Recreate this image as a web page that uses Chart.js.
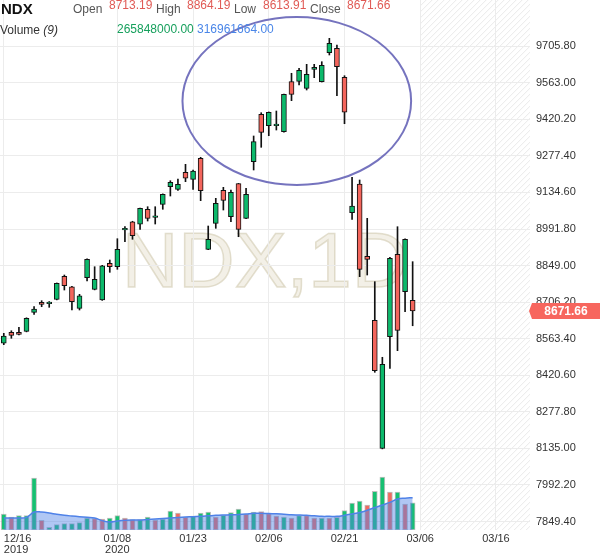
<!DOCTYPE html>
<html>
<head>
<meta charset="utf-8">
<script src="https://cdn.jsdelivr.net/npm/chart.js@4.4.1/dist/chart.umd.min.js"></script>
<style>
  body { margin: 0; background: #fff; }
  #wrap { position: relative; width: 600px; height: 558px; }
  #hdr span { position: absolute; white-space: nowrap; font-family: 'Liberation Sans', Arial, sans-serif; font-size: 12px; line-height: 12px; }
  #hdr .lbl { color: #555; }
  #hdr .val { color: #e05a55; }
</style>
</head>
<body>
<div id="wrap">
  <canvas id="myChart" width="600" height="558"></canvas>
  <div id="hdr">
    <span style="left:1px;top:1px;font-size:15px;line-height:15px;font-weight:bold;color:#111">NDX</span>
    <span class="lbl" style="left:73px;top:2.5px">Open</span>
    <span class="val" style="left:109px;top:-1px">8713.19</span>
    <span class="lbl" style="left:156px;top:2.5px">High</span>
    <span class="val" style="left:187px;top:-1px">8864.19</span>
    <span class="lbl" style="left:234px;top:2.5px">Low</span>
    <span class="val" style="left:263px;top:-1px">8613.91</span>
    <span class="lbl" style="left:310px;top:2.5px">Close</span>
    <span class="val" style="left:347px;top:-1px">8671.66</span>
    <span style="left:0px;top:23.5px;color:#333">Volume <i>(9)</i></span>
    <span style="left:117px;top:22.5px;color:#17a05d">265848000.00</span>
    <span style="left:197px;top:22.5px;color:#4a86e8">316961664.00</span>
  </div>
</div>
<script>
// trading days + empty future days on the right
let dates = [
  '2019-12-16','2019-12-17','2019-12-18','2019-12-19','2019-12-20','2019-12-23','2019-12-24','2019-12-26','2019-12-27','2019-12-30','2019-12-31',
  '2020-01-02','2020-01-03','2020-01-06','2020-01-07','2020-01-08','2020-01-09','2020-01-10','2020-01-13','2020-01-14','2020-01-15','2020-01-16','2020-01-17','2020-01-21','2020-01-22','2020-01-23','2020-01-24','2020-01-27','2020-01-28','2020-01-29','2020-01-30','2020-01-31',
  '2020-02-03','2020-02-04','2020-02-05','2020-02-06','2020-02-07','2020-02-10','2020-02-11','2020-02-12','2020-02-13','2020-02-14','2020-02-18','2020-02-19','2020-02-20','2020-02-21','2020-02-24','2020-02-25','2020-02-26','2020-02-27','2020-02-28',
  '2020-03-02','2020-03-03','2020-03-04','2020-03-05',
  '2020-03-06','2020-03-07','2020-03-08','2020-03-09','2020-03-10','2020-03-11','2020-03-12','2020-03-13','2020-03-14','2020-03-15','2020-03-16','2020-03-17','2020-03-18','2020-03-19','2020-03-20'
];

let opens = [8545.4,8588.3,8588.3,8592.2,8666.4,8705.5,8700.0,8717.2,8807.0,8766.4,8682.0,8801.6,8756.2,8714.5,8857.8,8844.5,8988.0,9020.3,9010.2,9068.8,9037.0,9088.3,9157.0,9146.9,9213.3,9185.9,9267.9,8912.5,9014.1,9143.0,9039.9,9168.8,9033.6,9254.7,9439.8,9395.3,9395.0,9371.9,9567.2,9568.7,9541.4,9615.6,9567.2,9680.4,9697.6,9584.4,9055.5,9167.6,8885.2,8635.2,8135.2,8571.1,8893.0,8746.9,8713.19];
let highs = [8584.4,8594.5,8607.8,8645.0,8688.3,8711.8,8708.5,8781.0,8812.1,8768.0,8736.7,8875.0,8844.5,8850.0,8870.7,8953.9,9000.8,9022.0,9074.0,9078.9,9078.9,9129.0,9180.4,9187.1,9244.5,9222.3,9271.9,9003.5,9111.7,9154.7,9144.2,9170.0,9150.8,9355.1,9446.1,9449.0,9452.7,9519.0,9600.0,9619.5,9635.1,9635.1,9645.3,9736.7,9710.5,9590.6,9193.8,9183.2,9033.6,8786.0,8490.7,8881.3,9000.8,8953.0,8864.19];
let lows = [8540.0,8564.9,8578.0,8590.0,8658.6,8688.3,8685.9,8715.0,8753.5,8675.4,8675.4,8788.7,8754.0,8713.0,8822.6,8834.4,8942.2,8951.6,8990.6,9023.0,9011.3,9068.8,9120.7,9143.0,9176.6,9146.9,9102.4,8911.0,8994.5,9066.0,9020.3,8961.7,9032.0,9222.3,9310.9,9356.2,9378.5,9370.0,9493.0,9554.3,9534.8,9582.8,9566.0,9671.5,9512.5,9403.1,9029.7,8805.5,8812.1,8432.1,8133.0,8447.7,8516.5,8668.8,8613.91];
let closes = [8573.9,8576.6,8580.5,8643.0,8679.3,8697.7,8706.5,8779.7,8770.3,8707.8,8731.2,8873.4,8795.3,8848.4,8844.5,8912.5,8994.5,8965.6,9072.7,9033.6,9043.5,9127.4,9174.2,9166.4,9189.9,9218.3,9141.4,8951.6,9092.2,9103.9,9135.2,8990.6,9127.4,9332.8,9369.5,9447.7,9401.5,9517.9,9517.9,9611.7,9596.1,9623.4,9631.2,9717.2,9625.8,9447.7,9081.7,8834.4,8873.4,8438.4,8463.3,8877.4,8596.1,8951.6,8671.66];

// volume (shares) and its 9-day average
let volumes = [157e6,127e6,141e6,141e6,510e6,95e6,25e6,53e6,63e6,63e6,73e6,118e6,112e6,108e6,118e6,141e6,118e6,102e6,102e6,127e6,98e6,108e6,186e6,167e6,124e6,137e6,167e6,176e6,127e6,144e6,171e6,206e6,157e6,176e6,180e6,161e6,137e6,127e6,118e6,141e6,141e6,118e6,118e6,118e6,124e6,190e6,265e6,284e6,245e6,379e6,519e6,372e6,372e6,255e6,265848000];
let volumeUp = [1,0,1,1,1,0,1,1,1,1,1,1,0,0,1,1,0,0,1,1,0,1,1,0,0,1,1,1,0,1,1,1,0,1,0,0,0,1,0,1,0,0,1,0,1,1,1,1,0,1,1,0,1,0,1];
let volumeAvg = [118e6,118e6,118e6,124e6,176e6,176e6,167e6,154e6,144e6,137e6,131e6,125e6,118e6,92e6,78e6,88e6,95e6,98e6,98e6,103e6,108e6,113e6,118e6,122e6,127e6,131e6,134e6,139e6,144e6,147e6,149e6,152e6,157e6,164e6,164e6,161e6,159e6,154e6,149e6,147e6,144e6,139e6,134e6,134e6,134e6,144e6,157e6,171e6,193e6,220e6,245e6,271e6,304e6,312e6,316961664];

let priceTicks = [7849.40,7992.20,8135.00,8277.80,8420.60,8563.40,8706.20,8849.00,8991.80,9134.60,9277.40,9420.20,9563.00,9705.80];
let xTickDates = ['2019-12-16','2020-01-08','2020-01-23','2020-02-06','2020-02-21','2020-03-06','2020-03-16'];
let xTickText = [['12/16','2019'],['01/08','2020'],'01/23','02/06','02/21','03/06','03/16'];

// circled area: centre (slot index, price) and half sizes
let circleCenter = [38.7, 9492];
let circleHalf = [15.1, 328];

let upColor = '#0cb96b';
let downColor = '#f3655c';
let fontFamily = "'Liberation Sans', Arial, sans-serif";

let bodies = opens.map((o, i) => [Math.min(o, closes[i]), Math.max(o, closes[i])]);
let wicks = lows.map((l, i) => [l, highs[i]]);
let bodyColors = opens.map((o, i) => closes[i] >= o ? upColor : downColor);
let volColors = volumeUp.map(u => u ? '#16c071' : '#f06a60');

let bgPlugin = {
  id: 'bg',
  beforeDraw(chart) {
    let ctx = chart.ctx, a = chart.chartArea;
    let x0 = chart.scales.x.getPixelForValue(closes.length);
    ctx.save();
    ctx.beginPath();
    ctx.rect(x0, a.top, a.right - x0, a.bottom - a.top);
    ctx.clip();
    ctx.strokeStyle = '#e9e9e9';
    ctx.lineWidth = 1;
    let h = a.bottom - a.top;
    for (let s = -h; s < a.right - x0; s += 6) {
      ctx.beginPath();
      ctx.moveTo(x0 + s, a.bottom);
      ctx.lineTo(x0 + s + h, a.top);
      ctx.stroke();
    }
    ctx.restore();

    ctx.save();
    ctx.font = '78px ' + fontFamily;
    ctx.textAlign = 'center';
    ctx.textBaseline = 'alphabetic';
    let cx = (a.left + a.right) / 2, cy = (a.top + a.bottom) / 2 + 22;
    ctx.fillStyle = 'rgba(228,222,202,0.45)';
    ctx.fillText('NDX,1D', cx, cy);
    ctx.strokeStyle = 'rgba(205,198,172,0.55)';
    ctx.lineWidth = 1.5;
    ctx.strokeText('NDX,1D', cx, cy);
    ctx.restore();
  },
  afterDraw(chart) {
    let ctx = chart.ctx, a = chart.chartArea;
    let xs = chart.scales.x, ys = chart.scales.y;
    // ellipse
    let ex = xs.getPixelForValue(circleCenter[0]);
    let ey = ys.getPixelForValue(circleCenter[1]);
    let rx = xs.getPixelForValue(circleCenter[0] + circleHalf[0]) - ex;
    let ry = ys.getPixelForValue(circleCenter[1] - circleHalf[1]) - ey;
    ctx.save();
    ctx.beginPath();
    ctx.ellipse(ex, ey, rx, ry, 0, 0, Math.PI * 2);
    ctx.strokeStyle = 'rgba(110,108,186,0.95)';
    ctx.lineWidth = 2;
    ctx.stroke();
    ctx.restore();

    // last price badge
    let last = closes[closes.length - 1];
    let py = ys.getPixelForValue(last);
    let bx = a.right + 2, bw = chart.width - bx, bh = 16;
    ctx.save();
    ctx.fillStyle = '#f7665e';
    ctx.beginPath();
    ctx.moveTo(bx - 3, py);
    ctx.lineTo(bx, py - bh / 2);
    ctx.lineTo(bx + bw, py - bh / 2);
    ctx.lineTo(bx + bw, py + bh / 2);
    ctx.lineTo(bx, py + bh / 2);
    ctx.closePath();
    ctx.fill();
    ctx.fillStyle = '#fff';
    ctx.font = 'bold 12px ' + fontFamily;
    ctx.textAlign = 'center';
    ctx.textBaseline = 'middle';
    ctx.fillText(last.toFixed(2), bx + bw / 2, py + 1);
    ctx.restore();
  }
};

let ctx = document.getElementById('myChart').getContext('2d');
let myChart = new Chart(ctx, {
  type: 'bar',
  data: {
    labels: dates,
    datasets: [
      {
        label: 'body',
        data: bodies,
        backgroundColor: bodyColors,
        borderColor: '#111',
        borderWidth: 1,
        borderSkipped: false,
        barThickness: 5,
        grouped: false,
        yAxisID: 'y',
        order: 0
      },
      {
        label: 'wick',
        data: wicks,
        backgroundColor: '#111',
        borderWidth: 0,
        barThickness: 1,
        grouped: false,
        yAxisID: 'y',
        order: 1
      },
      {
        type: 'line',
        label: 'Volume MA',
        data: volumeAvg,
        borderColor: '#4f82e8',
        borderWidth: 1.5,
        backgroundColor: 'rgba(80,130,230,0.45)',
        fill: 'origin',
        pointRadius: 0,
        tension: 0.4,
        yAxisID: 'yv',
        order: 2
      },
      {
        label: 'Volume',
        data: volumes,
        backgroundColor: volColors,
        borderColor: 'rgba(150,150,150,0.6)',
        borderWidth: 1,
        borderSkipped: false,
        barThickness: 5,
        grouped: false,
        yAxisID: 'yv',
        order: 3
      }
    ]
  },
  options: {
    responsive: false,
    animation: false,
    events: [],
    layout: { padding: 0 },
    plugins: {
      legend: { display: false },
      tooltip: { enabled: false }
    },
    scales: {
      x: {
        offset: true,
        border: { display: false },
        grid: {
          offset: false,
          drawTicks: false,
          color: (c) => xTickDates.indexOf(dates[c.index]) >= 0 ? '#ececec' : 'rgba(0,0,0,0)'
        },
        ticks: {
          autoSkip: false,
          maxRotation: 0,
          align: 'inner',
          padding: 3,
          color: '#333',
          font: { family: fontFamily, size: 11, lineHeight: 1.05 },
          callback: function (value, index) {
            let k = xTickDates.indexOf(dates[index]);
            return k >= 0 ? xTickText[k] : '';
          }
        },
        afterFit: (scale) => {
          scale.height = 28;
          scale.paddingLeft = 0;
          scale.paddingRight = 0;
        }
      },
      y: {
        type: 'linear',
        position: 'right',
        min: 7816.1,
        max: 9886.3,
        border: { display: false },
        grid: { color: '#ececec', drawTicks: false },
        afterBuildTicks: (scale) => {
          scale.ticks = priceTicks.map(v => ({ value: v }));
        },
        ticks: {
          padding: 6,
          color: '#333',
          font: { family: fontFamily, size: 11 },
          callback: (v) => Number(v).toFixed(2)
        },
        afterFit: (scale) => {
          scale.width = 70;
          scale.paddingTop = 0;
          scale.paddingBottom = 0;
        }
      },
      yv: {
        type: 'linear',
        display: false,
        min: 0,
        max: 5.2e9
      }
    }
  },
  plugins: [bgPlugin]
});
</script>
</body>
</html>
